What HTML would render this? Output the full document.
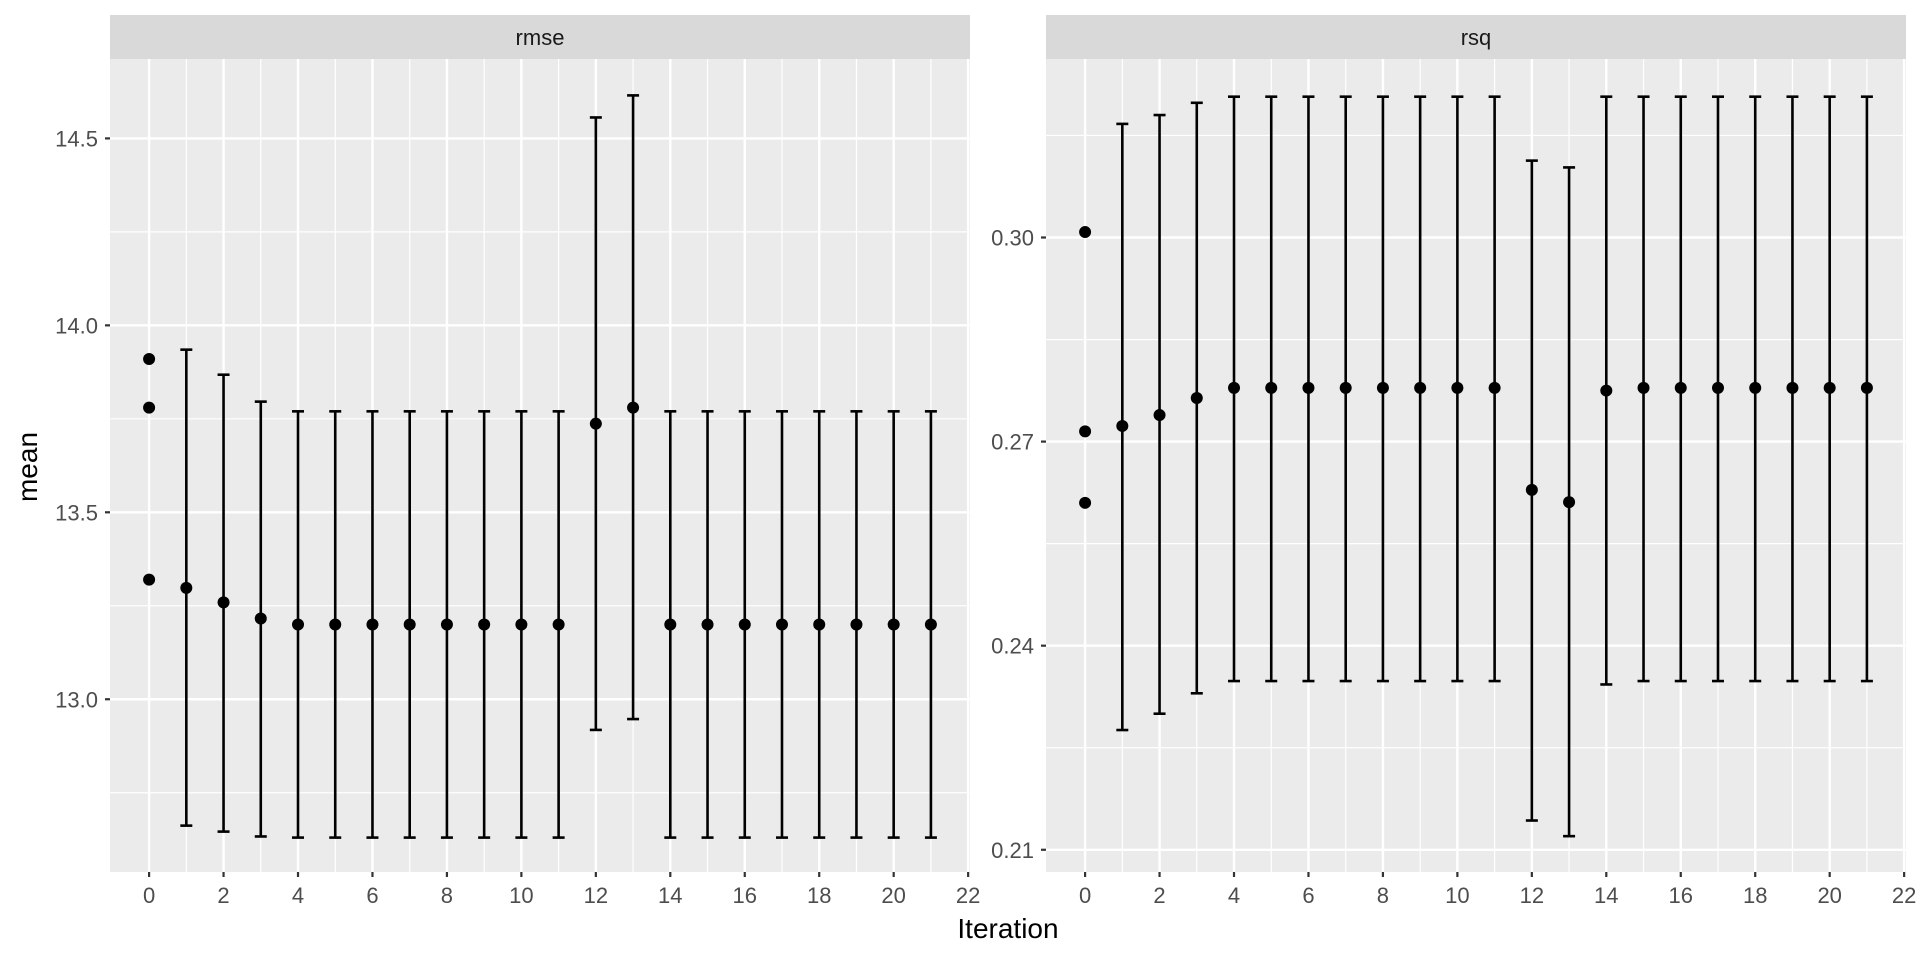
<!DOCTYPE html>
<html><head><meta charset="utf-8"><style>
body{margin:0;background:#fff}
svg text{font-family:"Liberation Sans",sans-serif}
</style></head><body>
<svg id="s" width="1920" height="960" xmlns="http://www.w3.org/2000/svg"></svg>
<script>
(function(){
const s=document.getElementById('s');let h='';
const TP=59,BT=872;
function panel(L,R,name,ymap,majors,minors,labels,pts,bars){
  const xm=v=>L+(v+1.05)*(R-L)/23.1;
  h+=`<rect x="${L}" y="15" width="${R-L}" height="${TP-15}" fill="#d9d9d9"/>`;
  h+=`<text x="${(L+R)/2}" y="45" font-size="22" fill="#1a1a1a" text-anchor="middle">${name}</text>`;
  h+=`<rect x="${L}" y="${TP}" width="${R-L}" height="${BT-TP}" fill="#ebebeb"/>`;
  minors.forEach(v=>{const y=ymap(v);if(y>TP&&y<BT)h+=`<line x1="${L}" x2="${R}" y1="${y}" y2="${y}" stroke="#fff" stroke-width="1.2"/>`});
  for(let i=1;i<22;i+=2)h+=`<line x1="${xm(i)}" x2="${xm(i)}" y1="${TP}" y2="${BT}" stroke="#fff" stroke-width="1.2"/>`;
  majors.forEach((v,k)=>{const y=ymap(v);h+=`<line x1="${L}" x2="${R}" y1="${y}" y2="${y}" stroke="#fff" stroke-width="2.4"/><line x1="${L-5}" x2="${L}" y1="${y}" y2="${y}" stroke="#333" stroke-width="2.2"/><text x="${L-12}" y="${y+8}" font-size="22" fill="#4d4d4d" text-anchor="end">${labels[k]}</text>`});
  for(let i=0;i<=22;i+=2){const x=xm(i);h+=`<line x1="${x}" x2="${x}" y1="${TP}" y2="${BT}" stroke="#fff" stroke-width="2.4"/><line x1="${x}" x2="${x}" y1="${BT}" y2="${BT+5}" stroke="#333" stroke-width="2.2"/><text x="${x}" y="${BT+31}" font-size="22" fill="#4d4d4d" text-anchor="middle">${i}</text>`}
  bars.forEach(b=>{const x=xm(b[0]),y1=ymap(b[2]),y2=ymap(b[3]);h+=`<line x1="${x}" x2="${x}" y1="${y1}" y2="${y2}" stroke="#000" stroke-width="2.6"/><line x1="${x-6}" x2="${x+6}" y1="${y1}" y2="${y1}" stroke="#000" stroke-width="2.6"/><line x1="${x-6}" x2="${x+6}" y1="${y2}" y2="${y2}" stroke="#000" stroke-width="2.6"/><circle cx="${x}" cy="${ymap(b[1])}" r="6" fill="#000"/>`});
  pts.forEach(p=>{h+=`<circle cx="${xm(p[0])}" cy="${ymap(p[1])}" r="6" fill="#000"/>`});
}
const y1=v=>138.4+(14.5-v)*373.9;
let b1=[[1,13.298,13.935,12.662],[2,13.259,13.868,12.646],[3,13.216,13.796,12.633],[12,13.737,14.556,12.918],[13,13.78,14.615,12.947]];
for(let i=4;i<=21;i++)if(i!=12&&i!=13)b1.push([i,13.2,13.77,12.63]);
panel(110,970,'rmse',y1,[13,13.5,14,14.5],[12.75,13.25,13.75,14.25],['13.0','13.5','14.0','14.5'],[[0,13.91],[0,13.78],[0,13.32]],b1);
const y2=v=>237.5+(0.30-v)*6803;
let b2=[[1,0.2723,0.3167,0.2276],[2,0.2739,0.318,0.23],[3,0.2764,0.3198,0.233],[12,0.2629,0.3113,0.2143],[13,0.2611,0.3103,0.212],[14,0.2775,0.3207,0.2343]];
for(let i=4;i<=21;i++)if(i<12||i>14)b2.push([i,0.2779,0.3207,0.2348]);
panel(1046,1906,'rsq',y2,[0.21,0.24,0.27,0.30],[0.225,0.255,0.285,0.315],['0.21','0.24','0.27','0.30'],[[0,0.3008],[0,0.2715],[0,0.261]],b2);
h+=`<text x="1008" y="938" font-size="28" fill="#000" text-anchor="middle">Iteration</text>`;
h+=`<text transform="translate(37,467) rotate(-90)" font-size="28" fill="#000" text-anchor="middle">mean</text>`;
s.innerHTML=h;
})();
</script>
</body></html>
